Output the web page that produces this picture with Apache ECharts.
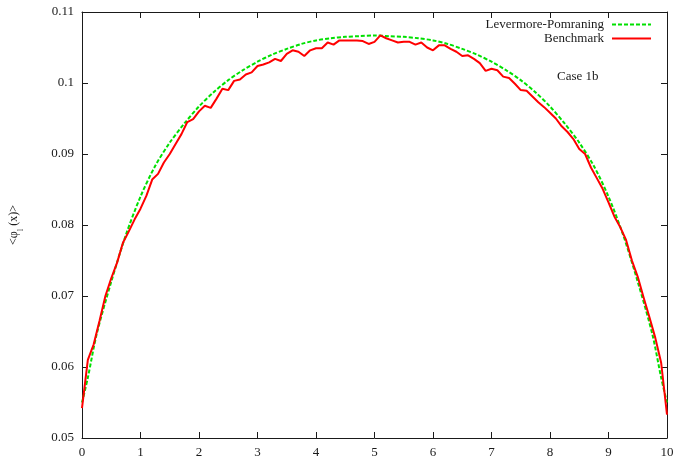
<!DOCTYPE html>
<html>
<head>
<meta charset="utf-8">
<script src="https://cdn.jsdelivr.net/npm/echarts@6/dist/echarts.min.js"></script>
<style>
  html, body { margin: 0; padding: 0; background: #fff; }
  #chart { width: 677px; height: 459px; }
</style>
</head>
<body>
<div id="chart"></div>
<script>
// Levermore-Pomraning model solution
const lpX = [0, 0.1, 0.25, 0.5, 0.75, 1, 1.25, 1.5, 1.75, 2, 2.25, 2.5, 2.75, 3, 3.25, 3.5, 3.75, 4, 4.25, 4.5, 4.75, 5,
             5.25, 5.5, 5.75, 6, 6.25, 6.5, 6.75, 7, 7.25, 7.5, 7.75, 8, 8.25, 8.5, 8.75, 9, 9.25, 9.5, 9.75, 9.9, 10];
const lpY = [0.0550, 0.0585, 0.0646, 0.0720, 0.0786, 0.0840, 0.0883, 0.0916, 0.0943, 0.0967, 0.0987, 0.1004, 0.1018,
             0.1030, 0.1040, 0.1048, 0.1055, 0.1060, 0.1063, 0.1065, 0.1066, 0.1067,
             0.1066, 0.1065, 0.1063, 0.1060, 0.1055, 0.1048, 0.1040, 0.1030, 0.1018, 0.1004, 0.0987, 0.0967,
             0.0943, 0.0916, 0.0883, 0.0840, 0.0786, 0.0720, 0.0646, 0.0585, 0.0550];

// Benchmark ensemble average, sampled every 0.1
const benchX = [0, 0.1, 0.2, 0.3, 0.4, 0.5, 0.6, 0.7, 0.8, 0.9, 1, 1.1, 1.2, 1.3, 1.4, 1.5, 1.6, 1.7, 1.8, 1.9,
                2, 2.1, 2.2, 2.3, 2.4, 2.5, 2.6, 2.7, 2.8, 2.9, 3, 3.1, 3.2, 3.3, 3.4, 3.5, 3.6, 3.7, 3.8, 3.9,
                4, 4.1, 4.2, 4.3, 4.4, 4.5, 4.6, 4.7, 4.8, 4.9, 5, 5.1, 5.2, 5.3, 5.4, 5.5, 5.6, 5.7, 5.8, 5.9,
                6, 6.1, 6.2, 6.3, 6.4, 6.5, 6.6, 6.7, 6.8, 6.9, 7, 7.1, 7.2, 7.3, 7.4, 7.5, 7.6, 7.7, 7.8, 7.9,
                8, 8.1, 8.2, 8.3, 8.4, 8.5, 8.6, 8.7, 8.8, 8.9, 9, 9.1, 9.2, 9.3, 9.4, 9.5, 9.6, 9.7, 9.8, 9.9, 10];
const benchY = [0.0542, 0.0610, 0.0632, 0.0665, 0.0700, 0.0725, 0.0747, 0.0775, 0.0791, 0.0808,
                0.0823, 0.0841, 0.0864, 0.0872, 0.0888, 0.0900, 0.0914, 0.0928, 0.0945, 0.0949,
                0.0960, 0.0968, 0.0965, 0.0978, 0.0992, 0.0990, 0.1003, 0.1005, 0.1012, 0.1015,
                0.1024, 0.1026, 0.1029, 0.1034, 0.1031, 0.1041, 0.1046, 0.1044, 0.1038, 0.1046,
                0.1049, 0.1049, 0.1057, 0.1054, 0.1060, 0.1060, 0.1060, 0.1060, 0.1059, 0.1055,
                0.1058, 0.1067, 0.1063, 0.1060, 0.1057, 0.1058, 0.1058, 0.1054, 0.1057, 0.1050,
                0.1046, 0.1053, 0.1053, 0.1048, 0.1044, 0.1038, 0.1039, 0.1034, 0.1028, 0.1017,
                0.1020, 0.1018, 0.1009, 0.1007, 0.0999, 0.0990, 0.0989, 0.0981, 0.0973, 0.0966,
                0.0958, 0.0950, 0.0939, 0.0931, 0.0921, 0.0907, 0.0900, 0.0881, 0.0866, 0.0851,
                0.0832, 0.0812, 0.0797, 0.0779, 0.0750, 0.0727, 0.0698, 0.0670, 0.0641, 0.0606, 0.0533];

const seriesNames = ['Levermore-Pomraning', 'Benchmark'];
const caseLabel = 'Case 1b';

const FONT = '"Liberation Serif", "Times New Roman", serif';
const INK = '#1a1a1a';

const pairs = (xs, ys) => xs.map((x, i) => [x, ys[i]]);
const fmtY = v => parseFloat(v.toFixed(2)).toString();

const tickStyle = { inside: true, length: 6, lineStyle: { color: INK, width: 1 } };
const lineStyleAxis = { show: true, onZero: false, lineStyle: { color: INK, width: 1 } };

// legend entries in the gnuplot style: text first, line sample to its right, no marker
const legendEntry = (name, top) => ({
  data: [name], orient: 'vertical', right: 25, top: top, align: 'right',
  itemWidth: 39, itemHeight: 10, padding: 0, selectedMode: false,
  itemStyle: { opacity: 0, borderWidth: 0 },
  textStyle: { fontFamily: FONT, fontSize: 13, color: INK, padding: [0, 3, 0, 0] }
});

const chart = echarts.init(document.getElementById('chart'), null, { renderer: 'canvas' });

chart.setOption({
  backgroundColor: '#fff',
  animation: false,
  grid: { left: 80, right: 10, top: 12, bottom: 21, containLabel: false },
  xAxis: [
    {
      type: 'value', min: 0, max: 10, interval: 1, position: 'bottom',
      axisLine: lineStyleAxis, axisTick: tickStyle, splitLine: { show: false },
      axisLabel: { color: INK, fontFamily: FONT, fontSize: 13, margin: 8 }
    },
    {
      type: 'value', min: 0, max: 10, interval: 1, position: 'top',
      axisLine: lineStyleAxis, axisTick: tickStyle, splitLine: { show: false },
      axisLabel: { show: false }
    }
  ],
  yAxis: [
    {
      type: 'value', min: 0.05, max: 0.11, interval: 0.01, position: 'left',
      axisLine: lineStyleAxis, axisTick: tickStyle, splitLine: { show: false },
      axisLabel: { color: INK, fontFamily: FONT, fontSize: 13, margin: 8, formatter: fmtY },
      name: '{a|<φ}{s|l}{a| (x)>}',
      nameLocation: 'middle', nameRotate: 90, nameGap: 62,
      nameTextStyle: {
        rich: {
          a: { fontFamily: FONT, fontSize: 12, color: INK },
          s: { fontFamily: FONT, fontSize: 9, color: INK, verticalAlign: 'bottom', padding: [0, 0, -5, 0] }
        }
      }
    },
    {
      type: 'value', min: 0.05, max: 0.11, interval: 0.01, position: 'right',
      axisLine: lineStyleAxis, axisTick: tickStyle, splitLine: { show: false },
      axisLabel: { show: false }
    }
  ],
  legend: [legendEntry(seriesNames[0], 18), legendEntry(seriesNames[1], 32)],
  graphic: [
    {
      type: 'text', left: 557, top: 70,
      style: { text: caseLabel, font: '13px ' + FONT, fill: INK }
    }
  ],
  series: [
    {
      name: seriesNames[0], type: 'line', data: pairs(lpX, lpY),
      symbol: 'none', smooth: 0.3,
      lineStyle: { color: '#00e000', width: 2, type: [4, 2] },
      itemStyle: { color: '#00e000' }
    },
    {
      name: seriesNames[1], type: 'line', data: pairs(benchX, benchY),
      symbol: 'none',
      lineStyle: { color: '#ff0000', width: 2 },
      itemStyle: { color: '#ff0000' }
    }
  ]
});
</script>
</body>
</html>
